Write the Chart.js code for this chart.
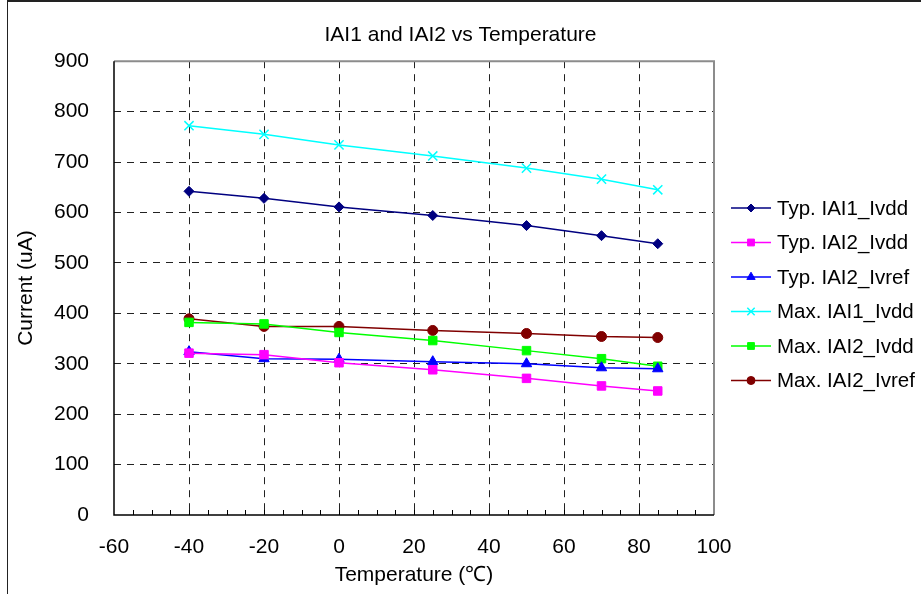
<!DOCTYPE html>
<html>
<head>
<meta charset="utf-8">
<script src="https://cdn.jsdelivr.net/npm/chart.js@4/dist/chart.umd.min.js"></script>
<style>
  html, body { margin: 0; padding: 0; background: #fff; }
  canvas { display: block; }
</style>
</head>
<body>
<canvas id="c" width="921" height="594"></canvas>
<script>
// ---- data ----
const temperatures = [-40, -20, 0, 25, 50, 70, 85];
const typIAI1_Ivdd  = [642, 628, 611, 594, 574, 554, 538];
const typIAI2_Ivdd  = [321, 318, 302, 288, 271, 256, 246];
const typIAI2_Ivref = [324, 310, 309, 304, 300, 292, 290];
const maxIAI1_Ivdd  = [772, 755, 734, 712, 688, 666, 645];
const maxIAI2_Ivdd  = [382, 379, 362, 346, 326, 310, 295];
const maxIAI2_Ivref = [389, 374, 374, 366, 360, 354, 352];
const seriesLabels = ['Typ. IAI1_Ivdd', 'Typ. IAI2_Ivdd', 'Typ. IAI2_Ivref', 'Max. IAI1_Ivdd', 'Max. IAI2_Ivdd', 'Max. IAI2_Ivref'];
const chartTitle = 'IAI1 and IAI2 vs Temperature';
const xTitle = 'Temperature (\u2103)';
const yTitle = 'Current (uA)';

const FONT = '"Liberation Sans", Arial, sans-serif';

function pts(vals) { return temperatures.map((t, i) => ({ x: t, y: vals[i] })); }

function ds(label, vals, color, style, radius, bw) {
  return {
    label, data: pts(vals), yAxisID: 'y',
    borderColor: color, backgroundColor: color,
    pointStyle: style, pointRadius: radius, pointHoverRadius: radius,
    pointBorderWidth: bw, borderWidth: 1.5, tension: 0, fill: false
  };
}

const datasets = [
  ds(seriesLabels[0], typIAI1_Ivdd,  '#000080', 'rectRot',  5,   1),
  ds(seriesLabels[1], typIAI2_Ivdd,  '#FF00FF', 'rect',     6,   1),
  ds(seriesLabels[2], typIAI2_Ivref, '#0000FF', 'triangle', 6,   1),
  ds(seriesLabels[3], maxIAI1_Ivdd,  '#00FFFF', 'crossRot', 6.5, 1.5),
  ds(seriesLabels[4], maxIAI2_Ivdd,  '#00FF00', 'rect',     6,   1),
  ds(seriesLabels[5], maxIAI2_Ivref, '#800000', 'circle',   5,   1)
];

const decor = {
  id: 'decor',
  beforeDraw(chart) {
    const ctx = chart.ctx;
    ctx.save();
    ctx.fillStyle = '#fff';
    ctx.fillRect(0, 0, chart.width, chart.height);
    // outer frame
    ctx.strokeStyle = '#222';
    ctx.lineWidth = 2;
    ctx.beginPath();
    ctx.moveTo(7, 1); ctx.lineTo(chart.width, 1);
    ctx.stroke();
    ctx.lineWidth = 1;
    ctx.beginPath();
    ctx.moveTo(7.5, 0); ctx.lineTo(7.5, chart.height);
    ctx.stroke();
    ctx.restore();
  },
  beforeDatasetsDraw(chart) {
    const ctx = chart.ctx, a = chart.chartArea, xs = chart.scales.x;
    ctx.save();
    // minor ticks on x axis (inside)
    ctx.strokeStyle = '#000';
    ctx.lineWidth = 1;
    ctx.beginPath();
    for (let v = xs.min + 5; v < xs.max; v += 5) {
      const px = Math.round(xs.getPixelForValue(v)) + 0.5;
      ctx.moveTo(px, a.bottom); ctx.lineTo(px, a.bottom - 5);
    }
    ctx.stroke();
    // plot border: top/right gray, left/bottom black
    ctx.strokeStyle = '#8c8c8c';
    ctx.lineWidth = 2;
    ctx.beginPath();
    ctx.moveTo(a.left, a.top); ctx.lineTo(a.right, a.top); ctx.lineTo(a.right, a.bottom);
    ctx.stroke();
    ctx.strokeStyle = '#000';
    ctx.lineWidth = 1.5;
    ctx.beginPath();
    ctx.moveTo(a.left, a.top); ctx.lineTo(a.left, a.bottom); ctx.lineTo(a.right, a.bottom);
    ctx.stroke();
    ctx.restore();
  },
  afterDraw(chart) {
    const ctx = chart.ctx;
    const x0 = 731, x1 = 771, tx = 777, y0 = 208, dy = 34.5;
    ctx.save();
    ctx.font = '20.5px ' + FONT;
    ctx.textBaseline = 'middle';
    ctx.textAlign = 'left';
    chart.data.datasets.forEach((d, i) => {
      const y = y0 + i * dy;
      ctx.strokeStyle = d.borderColor;
      ctx.fillStyle = d.backgroundColor;
      ctx.lineWidth = 1.5;
      ctx.beginPath();
      ctx.moveTo(x0, y); ctx.lineTo(x1, y);
      ctx.stroke();
      ctx.lineWidth = d.pointBorderWidth;
      Chart.helpers.drawPoint(ctx, {
        pointStyle: d.pointStyle, radius: d.pointRadius * 0.8, rotation: 0, borderWidth: d.pointBorderWidth
      }, (x0 + x1) / 2, y);
      ctx.fillStyle = '#000';
      ctx.fillText(d.label, tx, y + 1);
    });
    ctx.restore();
  }
};

function gridColor(ctx, lo, hi) {
  const v = ctx.tick && ctx.tick.value;
  return (v === lo || v === hi) ? 'rgba(0,0,0,0)' : '#222';
}

new Chart(document.getElementById('c'), {
  type: 'line',
  data: { datasets },
  options: {
    responsive: false,
    devicePixelRatio: 1,
    animation: false,
    events: [],
    layout: { padding: { left: 0, right: 0, top: 0, bottom: 0 } },
    plugins: {
      legend: { display: false },
      tooltip: { enabled: false },
      title: {
        display: true, text: chartTitle, color: '#000',
        font: { family: FONT, size: 21, weight: 'normal' },
        padding: { top: 23, bottom: 13 }
      }
    },
    scales: {
      x: {
        type: 'linear', position: 'bottom', min: -60, max: 100,
        ticks: { stepSize: 20, color: '#000', padding: 20, font: { family: FONT, size: 21 } },
        grid: { drawTicks: false, color: (c) => gridColor(c, -60, 100), lineWidth: 1 },
        border: { display: false, dash: [7, 6] },
        title: { display: true, text: xTitle, color: '#000', font: { family: FONT, size: 21 }, padding: { top: 0, bottom: 6 } },
        afterFit(s) { s.height = 79; }
      },
      y: {
        type: 'linear', position: 'left', min: 0, max: 900,
        ticks: { stepSize: 100, color: '#000', padding: 25, font: { family: FONT, size: 21 } },
        grid: { drawTicks: false, color: (c) => gridColor(c, 0, 900), lineWidth: 1 },
        border: { display: false, dash: [7, 6] },
        title: { display: true, text: yTitle, color: '#000', font: { family: FONT, size: 21 }, padding: { top: 14, bottom: 0 } },
        afterFit(s) { s.width = 114; }
      },
      legendSpace: {
        type: 'linear', position: 'right', min: 0, max: 1,
        ticks: { display: false },
        grid: { display: false, drawTicks: false },
        border: { display: false },
        afterFit(s) { s.width = 207; }
      }
    }
  },
  plugins: [decor]
});
</script>
</body>
</html>
